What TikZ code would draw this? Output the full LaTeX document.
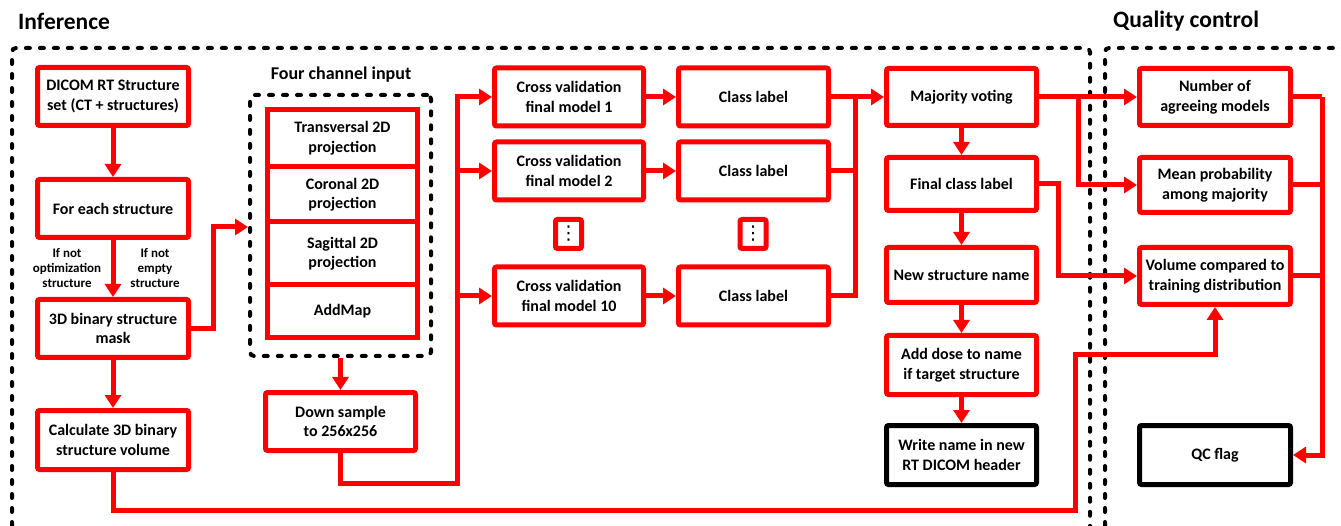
\documentclass[tikz,border=0pt]{standalone}
\usepackage{fontspec}
\setmainfont{Carlito}
\newfontfamily\dvfont{DejaVu Sans}
\usetikzlibrary{arrows.meta,calc}
\definecolor{rred}{RGB}{255,0,0}
\tikzset{
  box/.style={draw=rred, line width=5pt, rounded corners=2pt, minimum width=151pt, minimum height=58pt,
    align=center, inner sep=0pt, font=\bfseries\fontsize{16}{19.5}\selectfont},
  bbox/.style={box, draw=black},
  cell/.style={draw=rred, line width=5pt, minimum width=150pt, align=center, inner sep=0pt,
    font=\bfseries\fontsize{16}{19.5}\selectfont},
  dotbox/.style={draw=rred, line width=5pt, rounded corners=2pt, minimum width=26pt, minimum height=29pt,
    inner sep=0pt, font=\dvfont\fontsize{19}{19}\selectfont},
  dashbox/.style={draw=black, line width=4pt, line cap=round, dash pattern=on 4pt off 10pt, rounded corners=4pt},
  conn/.style={draw=rred, line width=5pt, line join=miter},
  arr/.style={conn, -{Triangle[length=13pt,width=16pt]}},
  small/.style={align=center, inner sep=0pt, font=\bfseries\fontsize{13}{15}\selectfont},
  title/.style={inner sep=0pt, font=\bfseries\fontsize{23.5}{26}\selectfont},
}
\begin{document}
\begin{tikzpicture}[x=1pt,y=-1pt]
\useasboundingbox (0,0) rectangle (1341,526);
% outer dashed regions
\draw[dashbox] (12,540) -- (12,48) -- (1090,48) -- (1090,540);
\draw[dashbox] (1105,540) -- (1105,48) -- (1360,48);
\node[title, anchor=west] (tinf) at (18,21) {Inference};
\node[title, anchor=west] (tqc) at (1113,21) {Quality control};
% left column
\node[box] (dicom) at (113,96.5) {DICOM RT Structure\\set (CT + structures)};
\node[box] (foreach) at (113,208.5) {For each structure};
\node[box] (mask) at (113,328.5) {3D binary structure\\mask};
\node[box, minimum height=59pt] (vol) at (113,440) {Calculate 3D binary\\structure volume};
\node[small] (lab1) at (67,268) {If not\\optimization\\structure};
\node[small] (lab2) at (155,268) {If not\\empty\\structure};
% four channel
\node[dashbox, minimum width=181pt, minimum height=261pt] (fourbox) at (340.5,225.5) {};
\node[font=\bfseries\fontsize{18}{20}\selectfont, inner sep=0pt] (tfour) at (341,75) {Four channel input};
\node[cell, minimum height=57.5pt] (trans) at (342.5,138.25) {Transversal 2D\\projection};
\node[cell, minimum height=55pt] (cor) at (342.5,194.5) {Coronal 2D\\projection};
\node[cell, minimum height=63pt] (sag) at (342.5,253.5) {Sagittal 2D\\projection};
\node[cell, minimum height=52.5pt] (addmap) at (342.5,311.25) {AddMap};
\node[box, minimum width=150pt] (down) at (340.5,421.5) {Down sample\\to 256x256};
% models
\node[box, minimum width=149pt] (cv1) at (569,97) {Cross validation\\final model 1};
\node[box, minimum width=149pt] (cv2) at (569,171) {Cross validation\\final model 2};
\node[box, minimum width=149pt] (cv10) at (569,296) {Cross validation\\final model 10};
\node[dotbox] (dots1) at (568.5,234) {⋮};
\node[box, minimum width=150pt] (cl1) at (753.5,97) {Class label};
\node[box, minimum width=150pt] (cl2) at (753.5,171) {Class label};
\node[box, minimum width=150pt] (cl10) at (753.5,296) {Class label};
\node[dotbox] (dots2) at (753,234) {⋮};
% right inference column
\node[box, minimum width=150pt, minimum height=57pt] (mv) at (961.5,97) {Majority voting};
\node[box, minimum width=150pt, minimum height=53pt] (fcl) at (961.5,184) {Final class label};
\node[box, minimum width=150pt, minimum height=55pt] (nsn) at (961.5,275) {New structure name};
\node[box, minimum width=150pt, minimum height=59pt] (add) at (961.5,365) {Add dose to name\\if target structure};
\node[bbox, minimum width=150pt, minimum height=59pt] (write) at (961.5,455) {Write name in new\\RT DICOM header};
% QC
\node[box, minimum height=57pt] (nag) at (1215,97) {Number of\\agreeing models};
\node[box, minimum height=55pt] (mp) at (1215,185) {Mean probability\\among majority};
\node[box, minimum height=57pt] (vc) at (1215,276) {Volume compared to\\training distribution};
\node[bbox, minimum height=59pt] (qc) at (1215,455) {QC flag};
% coordinates
\coordinate (m1) at (213,227);
\coordinate (b1) at (457,483);
\coordinate (b2) at (855,97);
\coordinate (b3) at (1078,97);
\coordinate (b4) at (1058,184);
\coordinate (b5) at (1322,97);
\coordinate (c1) at (1075,510);
\coordinate (c2) at (1075,355);
% connectors
\draw[arr] (dicom) -- (foreach);
\draw[arr] (foreach) -- (mask);
\draw[arr] (mask) -- (vol);
\draw[arr] (mask.east) -| (m1) -- (m1 -| fourbox.west);
\draw[arr] (fourbox) -- (down);
\draw[arr] (down.south) |- (b1) |- (cv1.west);
\draw[arr] (b1 |- cv2.west) -- (cv2.west);
\draw[arr] (b1 |- cv10.west) -- (cv10.west);
\draw[arr] (cv1) -- (cl1);
\draw[arr] (cv2) -- (cl2);
\draw[arr] (cv10) -- (cl10);
\draw[arr] (cl1) -- (mv);
\draw[conn] (cl2.east) -| (b2);
\draw[conn] (cl10.east) -| (b2);
\draw[arr] (mv) -- (fcl);
\draw[arr] (fcl) -- (nsn);
\draw[arr] (nsn) -- (add);
\draw[arr] (add) -- (write);
\draw[arr] (mv) -- (nag);
\draw[arr] (b3) |- (mp.west);
\draw[arr] (fcl.east) -- (b4) |- (vc.west);
\draw[conn] (nag.east) -- (b5);
\draw[conn] (mp.east) -- (b5 |- mp.east);
\draw[conn] (vc.east) -- (b5 |- vc.east);
\draw[arr] (b5) |- (qc.east);
\draw[arr] (vol.south) |- (c1) -- (c2) -| (vc.south);
\end{tikzpicture}
\end{document}
